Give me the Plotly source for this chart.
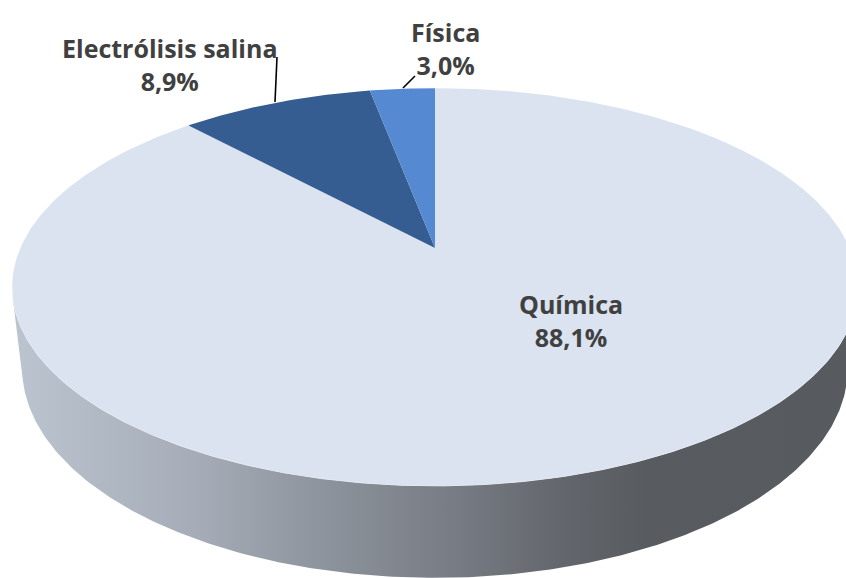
import numpy as np
import plotly.graph_objects as go

# ---- data ----
categories = ["Química", "Electrólisis salina", "Física"]
values = [88.1, 8.9, 3.0]
labels_pct = ["88,1%", "8,9%", "3,0%"]

# ---- styling ----
slice_colors = ["#dae3ef", "#365d91", "#558ad3"]
W, H = 846, 578
cx, cy = 435, 248          # projected pie centre (pixels)
fx, fy = 1870, 1849        # focal scale
phi = np.radians(27.8)     # elevation
D = 4.51                   # camera distance
thick = 0.225              # pie thickness (world units)


def proj(theta, z=0.0):
    x, y = np.cos(theta), np.sin(theta)
    v = y * np.sin(phi) + z * np.cos(phi)
    d = D + y * np.cos(phi) - z * np.sin(phi)
    return cx + fx * x / d, cy - fy * v / d


fig = go.Figure()

# side wall (visible front part)
lim = np.arcsin(1.0 / (D * np.cos(phi)))
th = np.linspace(np.pi + lim, 2 * np.pi - lim, 300)
xt, yt = proj(th, 0.0)
xb, yb = proj(th[::-1], -thick)
wx = np.concatenate([xt, xb])
wy = np.concatenate([yt, yb])
fig.add_trace(go.Scatter(
    x=wx, y=wy, mode="lines", fill="toself", line=dict(width=0),
    fillgradient=dict(type="horizontal", start=float(wx.min()), stop=float(wx.max()),
                      colorscale=[[0, "#bbc4cf"], [0.22, "#a5acb7"], [0.34, "#9198a1"],
                                  [0.52, "#787c84"], [0.65, "#63666c"], [0.75, "#585b60"],
                                  [1, "#575a5f"]]),
    hoverinfo="skip", showlegend=False))

# top face slices
total = sum(values)
cum = 0.0
for cat, val, col in zip(categories, values, slice_colors):
    a0 = np.pi / 2 - 2 * np.pi * cum / total
    a1 = np.pi / 2 - 2 * np.pi * (cum + val) / total
    n = max(int(abs(a1 - a0) * 120), 8)
    ang = np.linspace(a0, a1, n)
    ax_, ay_ = proj(ang, 0.0)
    px = np.concatenate([[cx], ax_, [cx]])
    py = np.concatenate([[cy], ay_, [cy]])
    fig.add_trace(go.Scatter(x=px, y=py, mode="lines", fill="toself",
                             fillcolor=col, line=dict(width=0, color=col),
                             name=cat, hoverinfo="name", showlegend=False))
    cum += val

# subtle highlight on the front rim
hx, hy = proj(th, 0.0)
fig.add_trace(go.Scatter(x=hx, y=hy, mode="lines", line=dict(width=1, color="#e4e9f0"),
                         hoverinfo="skip", showlegend=False))

# labels
font = dict(family="Open Sans", size=25, color="#404040")
label_pos = [(571, 320), (170, 64), (445, 48)]
for cat, pct, (lx, ly) in zip(categories, labels_pct, label_pos):
    fig.add_annotation(x=lx, y=ly, xref="x", yref="y", showarrow=False,
                       text=f"<b>{cat}</b><br><b>{pct}</b>", font=font,
                       align="center", xanchor="center", yanchor="middle")

# leader lines
fig.add_trace(go.Scatter(x=[277, 275], y=[57, 102], mode="lines",
                         line=dict(color="#000000", width=1.6), hoverinfo="skip", showlegend=False))
fig.add_trace(go.Scatter(x=[415, 403], y=[76, 88], mode="lines",
                         line=dict(color="#000000", width=1.6), hoverinfo="skip", showlegend=False))

fig.update_xaxes(range=[0, W], visible=False, fixedrange=True)
fig.update_yaxes(range=[H, 0], visible=False, fixedrange=True)
fig.update_layout(width=W, height=H, margin=dict(l=0, r=0, t=0, b=0),
                  paper_bgcolor="white", plot_bgcolor="white", showlegend=False)

fig.write_html("out.html", config={"displayModeBar": False},
               post_script="document.body.style.margin='0';document.body.style.overflow='hidden';")
